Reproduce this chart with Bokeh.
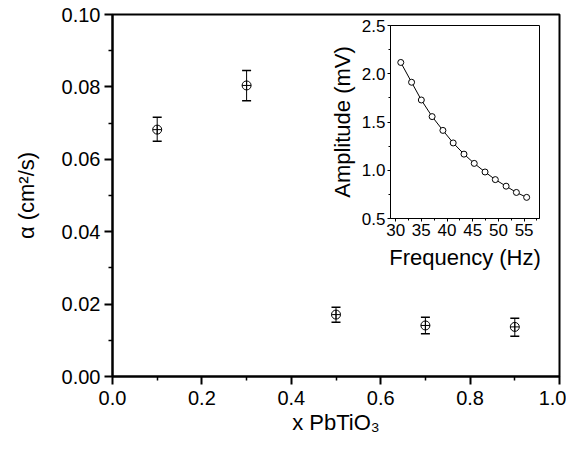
from bokeh.plotting import figure
from bokeh.models import GridBox, Whisker, ColumnDataSource, NumeralTickFormatter, FixedTicker, TeeHead
from bokeh.embed import file_html
from bokeh.resources import INLINE

# main data
x_frac = [0.1, 0.3, 0.5, 0.7, 0.9]
alpha = [0.0682, 0.0804, 0.0171, 0.0141, 0.0137]
alpha_hi = [0.0716, 0.0845, 0.0191, 0.0164, 0.0161]
alpha_lo = [0.0650, 0.0762, 0.0150, 0.0118, 0.0111]
x_ticks = [0.0, 0.2, 0.4, 0.6, 0.8, 1.0]
x_minor = [0.1, 0.3, 0.5, 0.7, 0.9]
y_ticks = [0.00, 0.02, 0.04, 0.06, 0.08, 0.10]
y_minor = [0.01, 0.03, 0.05, 0.07, 0.09]

# inset data
freq = [31.0, 33.1, 35.0, 37.1, 39.2, 41.2, 43.3, 45.3, 47.4, 49.4, 51.5, 53.5, 55.5]
amp = [2.117, 1.912, 1.728, 1.556, 1.413, 1.283, 1.167, 1.071, 0.982, 0.903, 0.835, 0.770, 0.719]
fx_ticks = [30, 35, 40, 45, 50, 55]
fx_minor = [32.5, 37.5, 42.5, 47.5, 52.5, 57.5]
fy_ticks = [0.5, 1.0, 1.5, 2.0, 2.5]
fy_minor = [0.75, 1.25, 1.75, 2.25]

FONT = "Liberation Sans"

p = figure(width=566, height=440, x_range=(0, 1), y_range=(0, 0.10),
           output_backend="svg", toolbar_location=None,
           min_border_left=112, min_border_right=7, min_border_top=14, min_border_bottom=64)
p.grid.visible = False
p.outline_line_color = "black"
p.outline_line_width = 2

src = ColumnDataSource(dict(x=x_frac, y=alpha, hi=alpha_hi, lo=alpha_lo))
w = Whisker(base="x", upper="hi", lower="lo", source=src, line_color="black", line_width=1,
            upper_head=TeeHead(size=9, line_color="black", line_width=1.5),
            lower_head=TeeHead(size=9, line_color="black", line_width=1.5))
p.add_layout(w)
p.scatter("x", "y", source=src, marker="circle_cross", size=9, fill_color=None,
          line_color="black", line_width=1)

p.xaxis.ticker = FixedTicker(ticks=x_ticks, minor_ticks=x_minor)
p.yaxis.ticker = FixedTicker(ticks=y_ticks, minor_ticks=y_minor)
p.xaxis.formatter = NumeralTickFormatter(format="0.0")
p.yaxis.formatter = NumeralTickFormatter(format="0.00")
p.xaxis.axis_label = "x PbTiO₃"
p.yaxis.axis_label = "α (cm²/s)"
for ax in (p.xaxis[0], p.yaxis[0]):
    ax.axis_line_width = 2
    ax.major_tick_out = 8
    ax.major_tick_in = 0
    ax.minor_tick_out = 4
    ax.minor_tick_in = 0
    ax.major_tick_line_width = 2
    ax.minor_tick_line_width = 1.5
    ax.major_label_text_font = FONT
    ax.major_label_text_font_size = "20px"
    ax.major_label_text_color = "black"
    ax.axis_label_text_font = FONT
    ax.axis_label_text_font_size = "22px"
    ax.axis_label_text_font_style = "normal"
    ax.axis_label_text_color = "black"
p.xaxis.major_label_standoff = 6
p.yaxis.major_label_standoff = 4
p.xaxis.axis_label_standoff = 2
p.yaxis.axis_label_standoff = 20

inset = figure(width=234, height=258, x_range=(29.0, 58.0), y_range=(0.5, 2.5),
               output_backend="svg", toolbar_location=None,
               min_border_left=61, min_border_right=21, min_border_top=11, min_border_bottom=53)
inset.grid.visible = False
inset.background_fill_alpha = 0
inset.border_fill_alpha = 0
inset.outline_line_color = "black"
inset.outline_line_width = 1
inset.line(freq, amp, line_color="black", line_width=1)
inset.scatter(freq, amp, marker="circle", size=6, fill_color="white", line_color="black", line_width=1)
inset.xaxis.ticker = FixedTicker(ticks=fx_ticks, minor_ticks=fx_minor)
inset.yaxis.ticker = FixedTicker(ticks=fy_ticks, minor_ticks=fy_minor)
inset.yaxis.formatter = NumeralTickFormatter(format="0.0")
inset.xaxis.axis_label = "Frequency (Hz)"
inset.yaxis.axis_label = "Amplitude (mV)"
for ax in (inset.xaxis[0], inset.yaxis[0]):
    ax.axis_line_width = 1
    ax.major_tick_out = 3
    ax.major_tick_in = 0
    ax.minor_tick_out = 2
    ax.minor_tick_in = 0
    ax.major_label_text_font = FONT
    ax.major_label_text_font_size = "17px"
    ax.major_label_text_color = "black"
    ax.axis_label_text_font = FONT
    ax.axis_label_text_font_size = "22px"
    ax.axis_label_text_font_style = "normal"
    ax.axis_label_text_color = "black"
inset.xaxis.major_label_standoff = 2
inset.yaxis.major_label_standoff = 2
inset.xaxis.axis_label_standoff = 6
inset.yaxis.axis_label_standoff = 4

grid = GridBox(children=[(p, 0, 0, 3, 3), (inset, 1, 1)],
               rows=["14px", "258px", "168px"], cols=["326px", "234px", "6px"])

open("out.html", "w").write(file_html(grid, INLINE))
